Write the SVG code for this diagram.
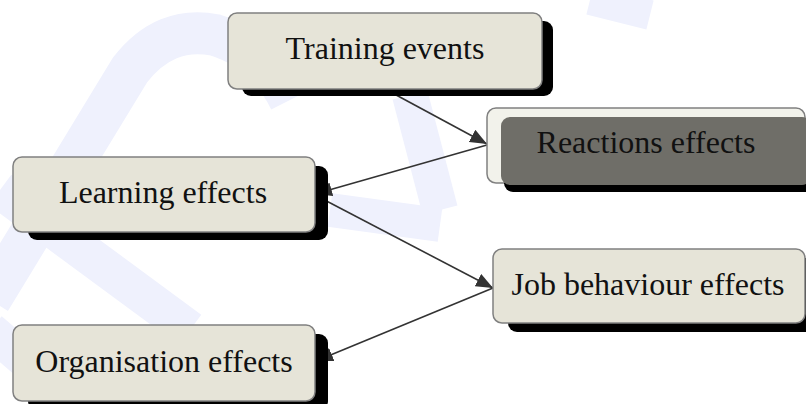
<svg xmlns="http://www.w3.org/2000/svg" width="806" height="404" viewBox="0 0 806 404">
<defs>
<style>
.box{fill:#e6e4d8;stroke:#808080;stroke-width:1.5}
.shadow{fill:#000}
.lbl{font-family:"Liberation Serif","Times New Roman",serif;font-size:32px;fill:#111;text-anchor:middle}
.conn{stroke:#333;stroke-width:1.6;fill:none;marker-end:url(#arr)}
.wm{fill:none;stroke:#eff1fd;stroke-linecap:butt}
</style>
<marker id="arr" markerUnits="userSpaceOnUse" markerWidth="18" markerHeight="14" refX="17" refY="7" orient="auto">
<path d="M0,0 L17,7 L0,14 Z" fill="#333"/>
</marker>
</defs>
<rect width="806" height="404" fill="#fff"/>
<g id="watermark">
<path class="wm" stroke-width="42" d="M-10,300 L130,70 Q165,25 215,35 Q265,50 290,100"/>
<path class="wm" stroke-width="38" d="M0,190 L190,330"/>
<path class="wm" stroke-width="36" d="M410,95 L440,210"/>
<path class="wm" stroke-width="34" d="M330,210 L440,225"/>
<path class="wm" stroke-width="30" d="M590,0 L650,15"/>
<path class="wm" stroke-width="36" d="M-10,330 L60,390"/>
</g>
<g id="connectors">
<line class="conn" x1="385" y1="89" x2="487" y2="144"/>
<line class="conn" x1="487" y1="145" x2="315" y2="194"/>
<line class="conn" x1="315" y1="195" x2="493" y2="288"/>
<line class="conn" x1="493" y1="288" x2="316" y2="361"/>
</g>
<g id="training">
<rect class="shadow" x="242" y="21" width="311" height="75" rx="9"/>
<rect class="box" x="228" y="13" width="314" height="76" rx="9"/>
<text class="lbl" x="385" y="59">Training events</text>
</g>
<g id="reactions">
<rect class="box" x="487" y="108" width="318" height="75" rx="9" style="fill:#f2f2eb"/>
<rect class="shadow" x="504" y="124" width="310" height="68" rx="9"/>
<rect x="501" y="117" width="310" height="68" rx="9" fill="#6f6e68"/>
<text class="lbl" x="646" y="153">Reactions effects</text>
</g>
<g id="learning">
<rect class="shadow" x="28" y="166" width="300" height="74" rx="9"/>
<rect class="box" x="13" y="157" width="302" height="75" rx="9"/>
<text class="lbl" x="163" y="203">Learning effects</text>
</g>
<g id="job">
<rect class="shadow" x="508" y="258" width="310" height="74" rx="9"/>
<rect class="box" x="493" y="249" width="312" height="74" rx="9"/>
<text class="lbl" x="648" y="295">Job behaviour effects</text>
</g>
<g id="organisation">
<rect class="shadow" x="28" y="334" width="300" height="76" rx="9"/>
<rect class="box" x="13" y="325" width="302" height="76" rx="9"/>
<text class="lbl" x="164" y="372">Organisation effects</text>
</g>
</svg>
